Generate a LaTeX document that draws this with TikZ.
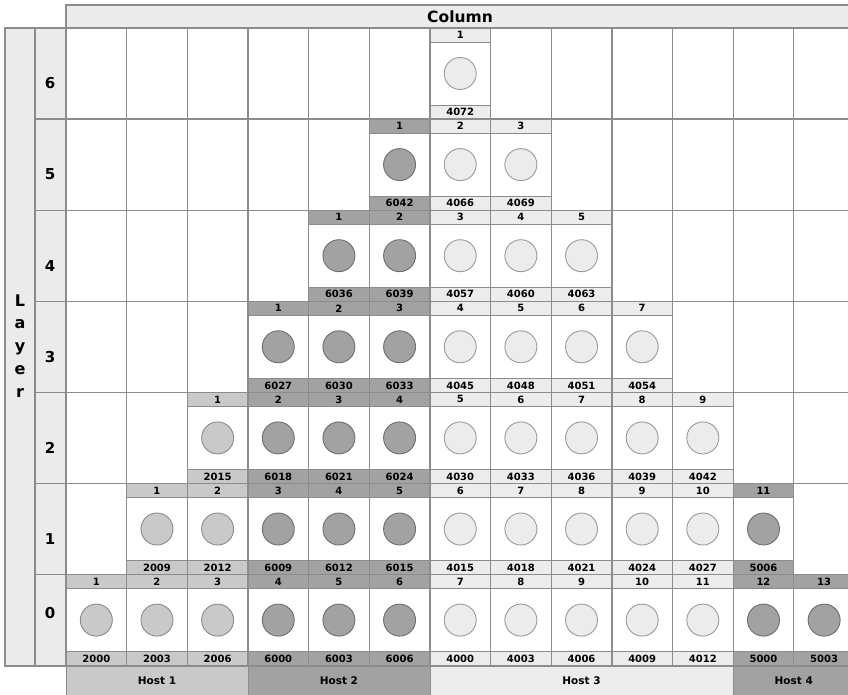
\documentclass[tikz,border=0pt]{standalone}
\usepackage{fontspec}
\setmainfont{DejaVu Sans}
\definecolor{hdrc}{HTML}{EBEBEB}
\definecolor{gridc}{HTML}{8C8C8C}
\definecolor{lightc}{HTML}{ECECEC}
\definecolor{midc}{HTML}{C9C9C9}
\definecolor{darkc}{HTML}{A2A2A2}
\definecolor{lightbd}{HTML}{9A9A9A}
\definecolor{midbd}{HTML}{8A8A8A}
\definecolor{darkbd}{HTML}{6E6E6E}
\begin{document}
\begin{tikzpicture}[x=1pt,y=-1pt,
  strip/.style={draw=gridc, line width=0.8pt, minimum width=60.65pt, minimum height=14pt, inner sep=0pt, font=\bfseries\fontsize{10}{10}\selectfont},
  dot/.style={circle, line width=0.9pt, minimum size=32pt, inner sep=0pt},
  gridline/.style={draw=gridc, line width=1.3pt},
  hostbox/.style={draw=gridc, line width=0.8pt, minimum height=29pt, inner sep=0pt, font=\bfseries\fontsize{10.5}{10.5}\selectfont},
  laynum/.style={font=\bfseries\fontsize{15}{15}\selectfont, inner sep=0pt},
  layletter/.style={font=\bfseries\fontsize{16}{16}\selectfont, inner sep=0pt, anchor=base}]
\useasboundingbox (0,0) rectangle (848,695);
\clip (0,0) rectangle (848,695);
% header and layer columns
\fill[hdrc] (66,5) rectangle (860,28);
\draw[gridline] (860,5) -- (66,5) -- (66,28);
\node[font=\bfseries\fontsize{15.5}{15.5}\selectfont, inner sep=0pt] (coltitle) at (460,16.5) {Column};
\fill[hdrc] (5,28) rectangle (66,666);
\draw[gridline] (5,28) rectangle (35,666);
\draw[gridline] (35,28) rectangle (66,666);
\foreach \ch [count=\k from 0] in {L,a,y,e,r}
  \node[layletter] (lay\k) at (20,{306+22.75*\k}) {\ch};
\foreach \r/\yy in {6/83,5/174,4/266,3/357,2/448,1/539,0/613}
  \node[laynum] (ln\r) at (50,\yy) {\r};
% cells
\foreach \r/\s/\ports in {
  0/1/{2000,2003,2006,6000,6003,6006,4000,4003,4006,4009,4012,5000,5003},
  1/2/{2009,2012,6009,6012,6015,4015,4018,4021,4024,4027,5006},
  2/3/{2015,6018,6021,6024,4030,4033,4036,4039,4042},
  3/4/{6027,6030,6033,4045,4048,4051,4054},
  4/5/{6036,6039,4057,4060,4063},
  5/6/{6042,4066,4069},
  6/7/{4072}}{
  \foreach \p [count=\i] in \ports {
    \pgfmathtruncatemacro\c{\s+\i-1}
    \ifnum\c<4 \def\cc{midc}\def\bd{midbd}\else
      \ifnum\c<7 \def\cc{darkc}\def\bd{darkbd}\else
        \ifnum\c<12 \def\cc{lightc}\def\bd{lightbd}\else
          \def\cc{darkc}\def\bd{darkbd}\fi\fi\fi
    \pgfmathsetmacro\xc{66+60.65*(\c-1)+30.325}
    \pgfmathsetmacro\yt{28+(6-\r)*91.1}
    \node[strip, fill=\cc] (t\r-\c) at (\xc,\yt+7) {\i};
    \node[strip, fill=\cc] (b\r-\c) at (\xc,\yt+84.1) {\p};
    \node[dot, fill=\cc, draw=\bd] (k\r-\c) at (\xc,\yt+45.5) {};
  }
}
% grid
\foreach \c in {0,...,13}
  \draw[gridline] ({66+60.65*\c},28) -- ({66+60.65*\c},666);
\foreach \r in {1,...,6}
  \draw[gridline] (35,{28+91.1*\r}) -- (860,{28+91.1*\r});
\draw[gridline] (5,28) -- (860,28);
\draw[gridline] (5,666) -- (860,666);
% hosts
\node[hostbox, fill=midc, minimum width=181.95pt] (h1) at (156.975,680.5) {Host 1};
\node[hostbox, fill=darkc, minimum width=181.95pt] (h2) at (338.925,680.5) {Host 2};
\node[hostbox, fill=lightc, minimum width=303.25pt] (h3) at (581.525,680.5) {Host 3};
\node[hostbox, fill=darkc, minimum width=121.3pt] (h4) at (793.8,680.5) {Host 4};
\end{tikzpicture}
\end{document}
